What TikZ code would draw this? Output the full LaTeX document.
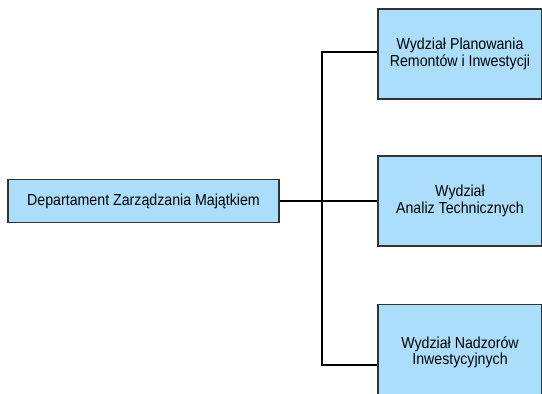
\documentclass[tikz,border=0pt]{standalone}
\usepackage{fontspec}
\setmainfont{Liberation Sans}[FakeStretch=0.89]
\begin{document}
\begin{tikzpicture}[x=1bp,y=-1bp,
  unit/.style={draw=black!80,line width=1.3bp,fill={rgb,255:red,170;green,222;blue,250},
    align=center,inner sep=0pt,font=\fontsize{16}{16.5}\selectfont},
  link/.style={line width=2.4bp,black}]
\useasboundingbox (0,0) rectangle (542,393);
\begin{scope}
\clip (0,0) rectangle (542,393);
% department box
\node[unit,minimum width=271bp,minimum height=43bp] (dep) at (143.5,201) {Departament Zarządzania Majątkiem};
% divisions
\node[unit,minimum width=164bp,minimum height=90bp] (w1) at (460,54) {Wydział Planowania\\Remontów i Inwestycji};
\node[unit,minimum width=164bp,minimum height=90bp] (w2) at (460,201) {Wydział\\Analiz Technicznych};
\node[unit,minimum width=164bp,minimum height=95bp] (w3) at (460,352) {Wydział Nadzorów\\Inwestycyjnych};
% branching connectors
\coordinate (j) at (322,201);
\draw[link] (dep.east) -- (j);
\draw[link] (w1.west |- 0,52) -| (j) |- (w3.west |- 0,365);
\draw[link] (j) -- (w2.west);
\end{scope}
\end{tikzpicture}
\end{document}
